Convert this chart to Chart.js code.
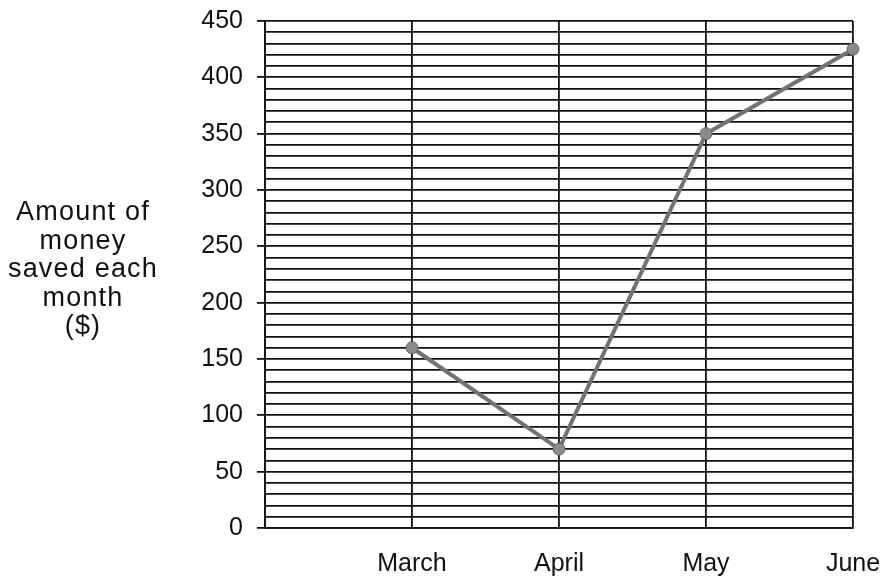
<!DOCTYPE html>
<html>
<head>
<meta charset="utf-8">
<script src="https://cdn.jsdelivr.net/npm/chart.js@4/dist/chart.umd.min.js"></script>
<style>
    html, body { margin: 0; padding: 0; background: #ffffff; overflow: hidden; }
    #wrap { position: relative; width: 885px; height: 578px; }
    #savingsChart { display: block; }
    #yTitle {
        position: absolute;
        left: 0;
        width: 166px;
        top: 197px;
        text-align: center;
        font-family: "Liberation Sans", Arial, sans-serif;
        font-size: 27px;
        letter-spacing: 1.2px;
        line-height: 28.5px;
        color: #111;
    }
</style>
</head>
<body>
<div id="wrap">
    <canvas id="savingsChart" width="885" height="578"></canvas>
    <div id="yTitle">Amount of<br>money<br>saved each<br>month<br>($)</div>
</div>
<script>
// data
const months = ['', 'March', 'April', 'May', 'June'];
const saved = [null, 160, 70, 350, 425];
const yMin = 0;
const yMax = 450;
const yMinorStep = 10;
const yLabelStep = 50;

document.addEventListener('DOMContentLoaded', () => {
    const ctx = document.getElementById('savingsChart').getContext('2d');
    const font = { family: '"Liberation Sans", Arial, sans-serif', size: 25 };

    new Chart(ctx, {
        type: 'line',
        data: {
            labels: months,
            datasets: [{
                data: saved,
                borderColor: '#727272',
                borderWidth: 4,
                pointRadius: 6,
                pointBackgroundColor: '#8a8a8a',
                pointBorderColor: '#666666',
                pointBorderWidth: 1,
                tension: 0,
                spanGaps: false
            }]
        },
        options: {
            responsive: false,
            animation: false,
            layout: { padding: { top: 21, right: 32, left: 0, bottom: 0 } },
            plugins: {
                legend: { display: false },
                tooltip: { enabled: false }
            },
            scales: {
                x: {
                    type: 'category',
                    offset: false,
                    grid: {
                        color: '#111',
                        lineWidth: 1.8,
                        drawTicks: false
                    },
                    border: { color: '#111', width: 1.8 },
                    ticks: {
                        color: '#111',
                        font: font,
                        padding: 21,
                        maxRotation: 0,
                        autoSkip: false
                    },
                    afterFit: (scale) => {
                        scale.height = 50;
                        // let the layout padding decide the plot edges
                        scale.paddingLeft = 0;
                        scale.paddingRight = 0;
                    }
                },
                y: {
                    min: yMin,
                    max: yMax,
                    grid: {
                        color: '#111',
                        lineWidth: 1.8,
                        tickLength: 8,
                        tickColor: (c) => (c.tick && c.tick.value % yLabelStep === 0) ? '#111' : 'rgba(0,0,0,0)'
                    },
                    border: { color: '#111', width: 1.8 },
                    ticks: {
                        stepSize: yMinorStep,
                        autoSkip: false,
                        color: '#111',
                        font: font,
                        padding: 14,
                        callback: (v) => (v % yLabelStep === 0 ? v : '')
                    },
                    afterFit: (scale) => {
                        scale.width = 265;
                        scale.paddingTop = 0;
                        scale.paddingBottom = 0;
                    }
                }
            }
        }
    });
});
</script>
</body>
</html>
